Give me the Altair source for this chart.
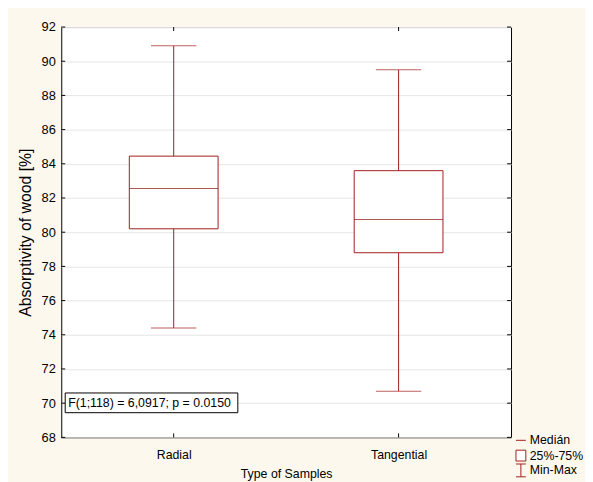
import altair as alt
import pandas as pd

categories = ["Radial", "Tangential"]
mins = [74.4, 70.7]
q1 = [80.2, 78.8]
medians = [82.55, 80.75]
q3 = [84.45, 83.6]
maxs = [90.9, 89.5]
y_ticks = [68, 70, 72, 74, 76, 78, 80, 82, 84, 86, 88, 90, 92]
annotation = ["F(1;118) = 6,0917; p = 0.0150"]
legend_labels = ["Medián", "25%-75%", "Min-Max"]

RED = "#A31D1D"
FONT = "Liberation Sans"
W, H = 456, 416

df = pd.DataFrame(dict(cat=categories, mn=mins, q1=q1, med=medians, q3=q3, mx=maxs))
ticks_df = pd.DataFrame(dict(v=y_ticks))
one = pd.DataFrame(dict(t=annotation))

xscale = alt.Scale(type="point", domain=categories, padding=0.5)
yscale = alt.Scale(domain=[68, 92], nice=False, zero=False)

XAX = alt.Axis(labelAngle=0, ticks=False, domain=False, labelPadding=11,
               titlePadding=7, labelFontSize=12.5, titleFontSize=12.5,
               labelColor="black", titleColor="black", titleFontWeight="normal")
YAX = alt.Axis(values=y_ticks, grid=True, gridColor="#e6e6e6", ticks=False,
               domain=False, labelPadding=6, titlePadding=8, labelFontSize=13,
               titleFontSize=16, labelColor="black", titleColor="black",
               titleFontWeight="normal", labelOverlap=False, tickCount=13)
XT = "Type of Samples"
YT = "Absorptivity of wood [%]"


def xenc():
    return alt.X("cat:N", title=XT, scale=xscale, axis=XAX)


def yenc(f):
    return alt.Y(f, title=YT, scale=yscale, axis=YAX)


base = alt.Chart(df)

whisker = base.mark_rule(color=RED, strokeWidth=1).encode(x=xenc(), y=yenc("mn:Q"), y2="mx:Q")
cap_lo = base.mark_tick(color=RED, size=46, thickness=1).encode(x=xenc(), y=yenc("mn:Q"))
cap_hi = base.mark_tick(color=RED, size=46, thickness=1).encode(x=xenc(), y=yenc("mx:Q"))
box = base.mark_bar(size=90, fill="white", stroke=RED, strokeWidth=1).encode(
    x=xenc(), y=yenc("q1:Q"), y2="q3:Q")
median = base.mark_tick(color="#8B0F0F", size=90, thickness=1).encode(x=xenc(), y=yenc("med:Q"))

tk = alt.Chart(ticks_df)
lt = tk.mark_rule(color="black").encode(y=yenc("v:Q"), x=alt.value(0), x2=alt.value(4))
rt = tk.mark_rule(color="black").encode(y=yenc("v:Q"), x=alt.value(W - 4), x2=alt.value(W))
tt = base.mark_rule(color="black").encode(x=xenc(), y=alt.value(0), y2=alt.value(4))
bt = base.mark_rule(color="black").encode(x=xenc(), y=alt.value(H - 4), y2=alt.value(H))

ann_box = alt.Chart(one).mark_rect(fill="white", stroke="black", strokeWidth=1).encode(
    x=alt.value(4), x2=alt.value(179), y=alt.value(371), y2=alt.value(391))
ann_txt = alt.Chart(one).mark_text(align="left", baseline="middle", fontSize=12.5,
                                   font=FONT, color="black").encode(
    x=alt.value(7), y=alt.value(381.5), text="t:N")

lg1 = alt.Chart(one).mark_rule(color=RED).encode(x=alt.value(461), x2=alt.value(471), y=alt.value(419))
lg2 = alt.Chart(one).mark_rect(fill="white", stroke=RED, strokeWidth=1).encode(
    x=alt.value(461), x2=alt.value(471), y=alt.value(429), y2=alt.value(440))
lg3a = alt.Chart(one).mark_rule(color=RED).encode(x=alt.value(466), y=alt.value(443), y2=alt.value(456))
lg3b = alt.Chart(one).mark_rule(color=RED).encode(x=alt.value(461), x2=alt.value(471), y=alt.value(443))
lg3c = alt.Chart(one).mark_rule(color=RED).encode(x=alt.value(461), x2=alt.value(471), y=alt.value(456))
lg_df = pd.DataFrame(dict(lab=legend_labels, yy=[419, 434.5, 449.5]))
lg_txt = alt.Chart(lg_df).mark_text(align="left", baseline="middle", fontSize=12.5,
                                    font=FONT, color="black").encode(
    x=alt.value(475), y=alt.Y("yy:Q", scale=None), text="lab:N")

chart = alt.layer(
    whisker, cap_lo, cap_hi, box, median, lt, rt, tt, bt,
    ann_box, ann_txt, lg1, lg2, lg3a, lg3b, lg3c, lg_txt
).properties(
    width=W, height=H,
    autosize=alt.AutoSizeParams(type="none"),
    padding={"left": 54, "top": 16, "right": 75, "bottom": 46},
    background="#FDF8EE",
).configure_view(
    stroke="black", strokeWidth=1, fill="white"
).configure_axis(
    labelFont=FONT, titleFont=FONT
)

chart.save("out.html", embed_options={"renderer": "svg", "actions": False})
